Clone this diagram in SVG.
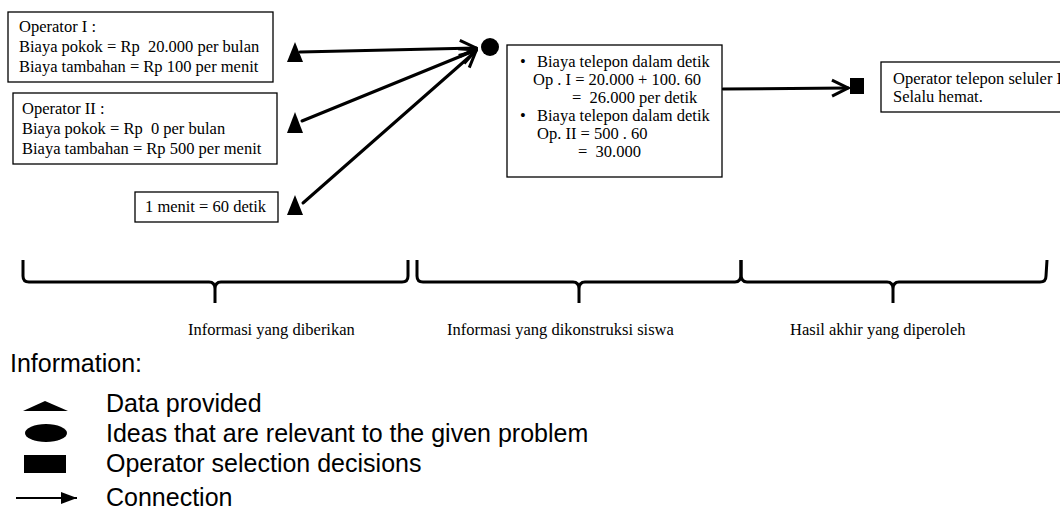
<svg xmlns="http://www.w3.org/2000/svg" width="1060" height="531" viewBox="0 0 1060 531">
<defs>
<style>
.box{fill:#fff;stroke:#000;stroke-width:1.3}
.t{font-family:"Liberation Serif","Times New Roman",serif;font-size:16.5px;fill:#000;white-space:pre}
.lg{font-family:"Liberation Sans",Arial,sans-serif;font-size:25px;fill:#000}
.conn{stroke:#000;stroke-width:3;fill:none;stroke-linecap:round}
.brace{stroke:#000;stroke-width:3;fill:none;stroke-linejoin:round}
</style>
<marker id="chev" markerUnits="userSpaceOnUse" viewBox="0 0 20 20" refX="18" refY="10" markerWidth="20" markerHeight="20" orient="auto">
<path d="M2,2 L18,10 L2,18" fill="none" stroke="#000" stroke-width="3"/>
</marker>
<marker id="tri" markerUnits="userSpaceOnUse" viewBox="0 0 16 12" refX="16" refY="6" markerWidth="16" markerHeight="12" orient="auto">
<path d="M0,0 L16,6 L0,12 Z" fill="#000"/>
</marker>
</defs>
<rect width="1060" height="531" fill="#fff"/>

<g id="connectors">
<line class="conn" x1="300" y1="52" x2="476" y2="48" marker-end="url(#chev)"/>
<line class="conn" x1="302" y1="121" x2="476" y2="50" marker-end="url(#chev)"/>
<line class="conn" x1="303" y1="203" x2="476" y2="51" marker-end="url(#chev)"/>
<line class="conn" x1="723" y1="89" x2="848" y2="88" marker-end="url(#chev)"/>
</g>

<g id="op1">
<rect class="box" x="8" y="12" width="265" height="70"/>
<text class="t" x="19" y="32">Operator I :</text>
<text class="t" x="19" y="52">Biaya pokok = Rp  20.000 per bulan</text>
<text class="t" x="19" y="72">Biaya tambahan = Rp 100 per menit</text>
</g>
<g id="op2">
<rect class="box" x="13" y="93" width="264" height="71"/>
<text class="t" x="22" y="114">Operator II :</text>
<text class="t" x="22" y="134">Biaya pokok = Rp  0 per bulan</text>
<text class="t" x="22" y="154">Biaya tambahan = Rp 500 per menit</text>
</g>
<g id="menit">
<rect class="box" x="135" y="192" width="143" height="30"/>
<text class="t" x="145" y="212">1 menit = 60 detik</text>
</g>
<g id="tri1"><polygon points="287,62 295,42 303,62" fill="#000"/></g>
<g id="tri2"><polygon points="287,133 295,112 303,133" fill="#000"/></g>
<g id="tri3"><polygon points="287,215 295,195 303,215" fill="#000"/></g>
<g id="idea"><circle cx="490" cy="47" r="9" fill="#000"/></g>
<g id="calc">
<rect class="box" x="507" y="45" width="215" height="132"/>
<text class="t" x="520" y="67">•</text>
<text class="t" x="537" y="67">Biaya telepon dalam detik</text>
<text class="t" x="533" y="85">Op . I = 20.000 + 100. 60</text>
<text class="t" x="572" y="103">=  26.000 per detik</text>
<text class="t" x="520" y="121">•</text>
<text class="t" x="537" y="121">Biaya telepon dalam detik</text>
<text class="t" x="537" y="139">Op. II = 500 . 60</text>
<text class="t" x="578" y="157">=  30.000</text>
</g>
<g id="decision"><rect x="850" y="78" width="14" height="16" fill="#000"/></g>
<g id="result">
<rect class="box" x="881" y="62" width="190" height="50"/>
<text class="t" x="893" y="84">Operator telepon seluler I</text>
<text class="t" x="893" y="102">Selalu hemat.</text>
</g>

<g id="braces">
<path class="brace" d="M23,260 V276 Q23,282 29,282 H209 Q215,282 215,289 V303 M215,289 Q215,282 221,282 H402 Q408,282 408,276 V260"/>
<path class="brace" d="M417,260 V276 Q417,282 423,282 H573 Q579,282 579,289 V303 M579,289 Q579,282 585,282 H735 Q741,282 741,274 V260"/>
<path class="brace" d="M741,260 V274 Q741,282 747,282 H887 Q893,282 893,289 V303 M893,289 Q893,282 899,282 H1040 Q1046,282 1046,276 L1047,260"/>
</g>
<g id="labels">
<text class="t" x="188" y="335">Informasi yang diberikan</text>
<text class="t" x="447" y="335">Informasi yang dikonstruksi siswa</text>
<text class="t" x="790" y="335">Hasil akhir yang diperoleh</text>
</g>

<g id="legend">
<text class="lg" x="10" y="372">Information:</text>
<polygon points="23,411 45,401 68,411" fill="#000"/>
<text class="lg" x="106" y="412">Data provided</text>
<ellipse cx="46" cy="433" rx="21" ry="9" fill="#000"/>
<text class="lg" x="106" y="442">Ideas that are relevant to the given problem</text>
<rect x="24" y="455" width="42" height="18" fill="#000"/>
<text class="lg" x="106" y="472">Operator selection decisions</text>
<line x1="16" y1="498" x2="77" y2="498" stroke="#000" stroke-width="2" marker-end="url(#tri)"/>
<text class="lg" x="106" y="506">Connection</text>
</g>
</svg>
